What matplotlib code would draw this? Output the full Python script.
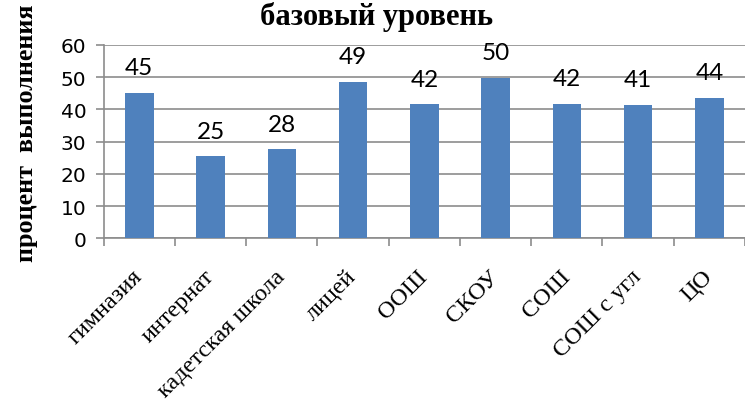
import matplotlib
matplotlib.use("Agg")
import matplotlib.pyplot as plt
import numpy as np

# school types and task completion percentage (basic level)
categories = ["гимназия", "интернат", "кадетская школа", "лицей", "ООШ",
              "СКОУ", "СОШ", "СОШ с угл", "ЦО"]
values = [45.2, 25.4, 27.6, 48.6, 41.6, 49.9, 41.7, 41.4, 43.7]
y_ticks = [0, 10, 20, 30, 40, 50, 60]

title = "базовый уровень"
y_label = "процент  выполнения"

bar_color = "#4F81BD"
grid_color = "#8C8C8C"

fig = plt.figure(figsize=(7.45, 4.06), dpi=100)
ax = fig.add_axes([0.1392, 0.4106, 0.8608, 0.4761])

x = np.arange(len(categories))
bars = ax.bar(x, values, width=0.4, color=bar_color, zorder=3)

ax.set_xlim(-0.5, len(categories) - 0.5)
ax.set_ylim(0, 60)
ax.set_yticks(y_ticks)
ax.yaxis.grid(True, color=grid_color, linewidth=1.2, zorder=0)
ax.set_axisbelow(True)

for side in ("top", "right"):
    ax.spines[side].set_visible(False)
for side in ("left", "bottom"):
    ax.spines[side].set_color(grid_color)
    ax.spines[side].set_linewidth(1.2)

ax.tick_params(axis="y", direction="out", length=5.5, width=1.2,
               color=grid_color, pad=7, labelsize=14.5)
for lab in ax.get_yticklabels():
    lab.set_family("DejaVu Sans")

# tick marks sit between categories, labels at category centres
ax.set_xticks(np.arange(-0.5, len(categories)), minor=True)
ax.set_xticks(x)
ax.tick_params(axis="x", which="minor", direction="out", length=5.5,
               width=1.2, color=grid_color)
ax.tick_params(axis="x", which="major", length=0, pad=25)
ax.set_xticklabels(categories, rotation=45, ha="right", va="center",
                   rotation_mode="anchor", family="Liberation Serif",
                   fontsize=17.5)

for xi, v in zip(x, values):
    ax.annotate(f"{v:.0f}", (xi, v), xytext=(0, 13.5),
                textcoords="offset points", ha="center", va="baseline",
                fontsize=17.5, family="Lato")

fig.text(0.506, 0.996, title, ha="center", va="top",
         family="Liberation Serif", fontweight="bold", fontsize=22)
fig.text(0.036, 0.671, y_label, ha="center", va="center", rotation=90,
         family="Liberation Serif", fontweight="bold", fontsize=18.8)

fig.savefig("out.png", dpi=100)
